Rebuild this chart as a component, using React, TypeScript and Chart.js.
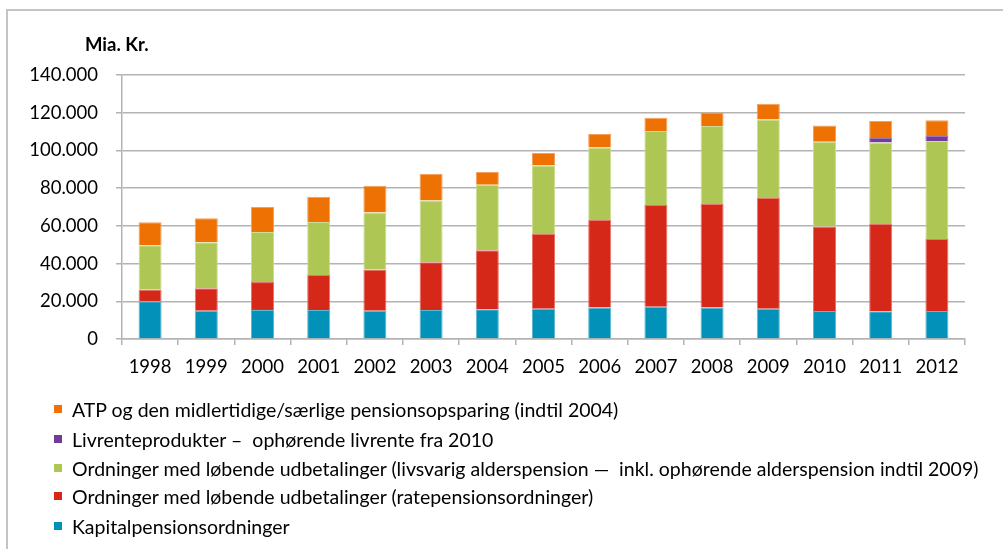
import React, { useEffect, useRef } from "react";
import { Chart, registerables } from "chart.js";

Chart.register(...registerables);

const years = ["1998", "1999", "2000", "2001", "2002", "2003", "2004", "2005", "2006", "2007", "2008", "2009", "2010", "2011", "2012"];
const kapital = [20000, 15000, 15400, 15400, 15000, 15400, 15750, 16100, 16650, 17150, 16650, 16100, 14850, 14700, 14850];
const rate = [6300, 11900, 14800, 18500, 21900, 25250, 31250, 39550, 46450, 53900, 54900, 58650, 44750, 46250, 38150];
const livsvarig = [23400, 24400, 26500, 28100, 30200, 32850, 34850, 36400, 38500, 39200, 41350, 41700, 45000, 43300, 51950];
const livrente = [0, 0, 0, 0, 0, 0, 0, 0, 0, 0, 0, 0, 0, 2300, 2650];
const atp = [12200, 12800, 13300, 13500, 14150, 14150, 6650, 6550, 7050, 7100, 7250, 8300, 8650, 9000, 8450];

const yMax = 140000;
const yStep = 20000;
const yUnit = "Mia. Kr.";

const labels = {
  atp: "ATP og den midlertidige/særlige pensionsopsparing (indtil 2004)",
  livrente: "Livrenteprodukter –  ophørende livrente fra 2010",
  livsvarig: "Ordninger med løbende udbetalinger (livsvarig alderspension —  inkl. ophørende alderspension indtil 2009)",
  rate: "Ordninger med løbende udbetalinger (ratepensionsordninger)",
  kapital: "Kapitalpensionsordninger",
};

const colors = {
  atp: "#EE7203",
  livrente: "#713B97",
  livsvarig: "#AEC653",
  rate: "#D52819",
  kapital: "#0191B9",
};
const edge = {
  atp: "#F4A060",
  livrente: "#9A77B8",
  livsvarig: "#CCDD96",
  rate: "#E5766C",
  kapital: "#5DB8D3",
};

const FONT = "Lato, 'Open Sans', sans-serif";

function fmt(v: number): string {
  const s = Math.round(v).toString();
  return s.replace(/\B(?=(\d{3})+(?!\d))/g, ".");
}

export default function App() {
  const ref = useRef<HTMLCanvasElement | null>(null);

  useEffect(() => {
    if (!ref.current) return;
    const mk = (key: keyof typeof colors, data: number[]) => ({
      label: labels[key],
      data,
      backgroundColor: colors[key],
      borderColor: edge[key],
      borderWidth: 1,
      barPercentage: 0.41,
      categoryPercentage: 1,
    });
    const chart = new Chart(ref.current, {
      type: "bar",
      data: {
        labels: years,
        datasets: [
          mk("kapital", kapital),
          mk("rate", rate),
          mk("livsvarig", livsvarig),
          mk("livrente", livrente),
          mk("atp", atp),
        ],
      },
      options: {
        animation: false,
        responsive: false,
        maintainAspectRatio: false,
        layout: { padding: { top: 75, right: 38, left: 0, bottom: 0 } },
        plugins: { legend: { display: false }, tooltip: { enabled: false }, title: { display: false } },
        scales: {
          x: {
            stacked: true,
            afterFit: (s: any) => {
              s.height = 210;
            },
            grid: {
              display: true,
              drawOnChartArea: false,
              drawTicks: true,
              tickLength: 6,
              color: "#b3b3b3",
              lineWidth: 1.5,
              offset: true,
            },
            border: { display: true, color: "#b3b3b3", width: 1.5 },
            ticks: { color: "#000", font: { family: FONT, size: 18.5 }, padding: 11, maxRotation: 0 },
          },
          y: {
            stacked: true,
            min: 0,
            max: yMax,
            afterFit: (s: any) => {
              s.width = 122;
            },
            grid: { color: "#b3b3b3", lineWidth: 1.5, drawTicks: true, tickLength: 6 },
            border: { display: true, color: "#b3b3b3", width: 1.5 },
            ticks: {
              stepSize: yStep,
              color: "#000",
              font: { family: FONT, size: 18.5 },
              padding: 18,
              callback: (v: any) => fmt(Number(v)),
            },
          },
        },
      },
    });
    return () => chart.destroy();
  }, []);

  const legendItems: (keyof typeof colors)[] = ["atp", "livrente", "livsvarig", "rate", "kapital"];
  const rowY = [409, 439, 468, 496, 526];

  return (
    <div
      style={{
        position: "fixed",
        left: 0,
        top: 0,
        width: 1003,
        height: 549,
        overflow: "hidden",
        background: "#fff",
        fontFamily: FONT,
      }}
    >
      <div
        style={{
          position: "absolute",
          left: 6,
          top: 9,
          width: 1100,
          height: 700,
          borderLeft: "2px solid #c4c4c4",
          borderTop: "2px solid #c4c4c4",
        }}
      />
      <canvas ref={ref} width={1003} height={549} style={{ position: "absolute", left: 0, top: 0 }} />
      <div
        style={{
          position: "absolute",
          left: 85,
          top: 32,
          fontWeight: 700,
          fontSize: 18.5,
          lineHeight: "24px",
          color: "#000",
        }}
      >
        {yUnit}
      </div>
      {legendItems.map((k, i) => (
        <div
          key={k}
          style={{
            position: "absolute",
            left: 54,
            top: rowY[i] - 12,
            height: 24,
            display: "flex",
            alignItems: "center",
            whiteSpace: "pre",
            fontSize: 19.5,
            color: "#000",
          }}
        >
          <span style={{ display: "inline-block", width: 8, height: 8, background: colors[k], marginRight: 10, flex: "none" }} />
          <span>{labels[k]}</span>
        </div>
      ))}
    </div>
  );
}
